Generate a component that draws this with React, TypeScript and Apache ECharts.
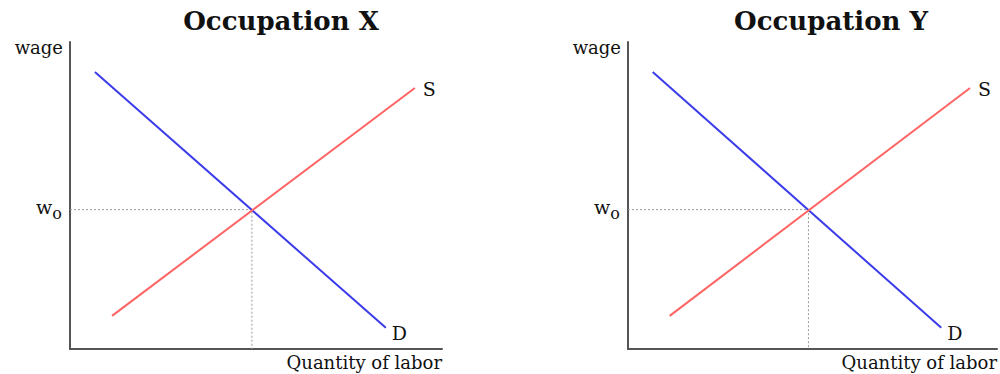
import React, { useEffect, useRef } from "react";
import * as echarts from "echarts";

// Occupation X
const demandX_X = [6.7, 84.9];
const demandY_X = [90.2, 6.9];
const supplyX_X = [11.3, 92.7];
const supplyY_X = [10.8, 85.0];
const equilibrium_X = [48.9, 45.4];

// Occupation Y
const demandX_Y = [6.7, 84.9];
const demandY_Y = [90.2, 6.9];
const supplyX_Y = [11.3, 92.7];
const supplyY_Y = [10.8, 85.0];
const equilibrium_Y = [48.9, 45.4];

const titles = ["Occupation X", "Occupation Y"];
const yAxisName = "wage";
const xAxisName = "Quantity of labor";
const supplyLabel = "S";
const demandLabel = "D";

const SERIF = "'DejaVu Serif', 'Liberation Serif', serif";

function pairs(xs: number[], ys: number[]) {
  return xs.map((x, i) => [x, ys[i]]);
}

export default function App() {
  const ref = useRef<HTMLDivElement>(null);
  useEffect(() => {
    document.body.style.margin = "0";
    const chart = echarts.init(ref.current!, null, { renderer: "svg" });
    const panels = [
      { dx: demandX_X, dy: demandY_X, sx: supplyX_X, sy: supplyY_X, eq: equilibrium_X },
      { dx: demandX_Y, dy: demandY_Y, sx: supplyX_Y, sy: supplyY_Y, eq: equilibrium_Y },
    ];
    const grids = [
      { left: 70, top: 42, width: 372, height: 307 },
      { left: 628, top: 42, width: 372, height: 307 },
    ];
    const axisLine = { show: true, lineStyle: { color: "#555", width: 2 } };
    const xAxis = grids.map((_, i) => ({
      type: "value",
      gridIndex: i,
      min: 0,
      max: 100,
      axisLine,
      axisTick: { show: false },
      axisLabel: { show: false },
      splitLine: { show: false },
      name: xAxisName,
      nameLocation: "end",
      nameGap: 0,
      nameTextStyle: {
        fontFamily: SERIF,
        fontSize: 18,
        color: "#111",
        align: "right",
        verticalAlign: "top",
        padding: [4, 0, 0, 0],
      },
    }));
    const yAxis = panels.map((p, i) => ({
      type: "value",
      gridIndex: i,
      min: 0,
      max: 100,
      axisLine,
      axisTick: { show: false },
      splitLine: { show: false },
      axisLabel: {
        show: true,
        customValues: [p.eq[1]],
        margin: 8,
        formatter: () => "{s| }{w|w}{o|o}",
        rich: {
          s: { fontSize: 1, lineHeight: 24, verticalAlign: "middle" },
          w: { fontFamily: SERIF, fontSize: 19, color: "#111", verticalAlign: "top", lineHeight: 18 },
          o: { fontFamily: SERIF, fontSize: 16, color: "#111", verticalAlign: "bottom", lineHeight: 14 },
        },
      },
      name: yAxisName,
      nameLocation: "end",
      nameGap: 0,
      nameTextStyle: {
        fontFamily: SERIF,
        fontSize: 18,
        color: "#111",
        align: "right",
        verticalAlign: "top",
        padding: [-4, 7, 0, 0],
      },
    }));
    const series: any[] = [];
    panels.forEach((p, i) => {
      series.push({
        type: "line",
        xAxisIndex: i,
        yAxisIndex: i,
        data: [[0, p.eq[1]], [p.eq[0], p.eq[1]], [p.eq[0], 0]],
        symbol: "none",
        silent: true,
        lineStyle: { color: "#999", width: 1, type: [2, 2] },
        z: 1,
      });
      series.push({
        type: "line",
        xAxisIndex: i,
        yAxisIndex: i,
        data: pairs(p.dx, p.dy),
        symbol: "none",
        lineStyle: { color: "#3b3bea", width: 2 },
        endLabel: {
          show: true,
          formatter: demandLabel,
          fontFamily: SERIF,
          fontSize: 19,
          color: "#111",
          distance: 6,
          offset: [0, 5],
        },
        z: 3,
      });
      series.push({
        type: "line",
        xAxisIndex: i,
        yAxisIndex: i,
        data: pairs(p.sx, p.sy),
        symbol: "none",
        lineStyle: { color: "#ff6464", width: 2 },
        endLabel: {
          show: true,
          formatter: supplyLabel,
          fontFamily: SERIF,
          fontSize: 19,
          color: "#111",
          distance: 8,
          offset: [0, 1],
        },
        z: 3,
      });
    });
    chart.setOption({
      animation: false,
      backgroundColor: "#fff",
      title: titles.map((t, i) => ({
        text: t,
        left: i === 0 ? 276 : 826,
        top: 3,
        textAlign: "center",
        textStyle: { fontFamily: SERIF, fontSize: 26, fontWeight: "bold", color: "#111" },
      })),
      grid: grids,
      xAxis,
      yAxis,
      series,
    });
    return () => chart.dispose();
  }, []);
  return <div ref={ref} style={{ width: 1000, height: 374 }} />;
}
